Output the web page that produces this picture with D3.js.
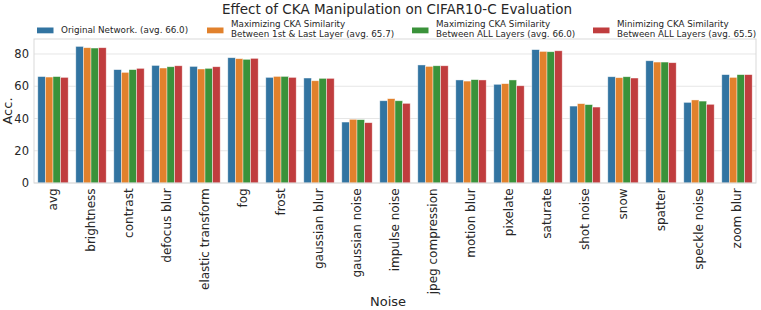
<!DOCTYPE html>
<html><head><meta charset="utf-8">
<script src="https://cdn.jsdelivr.net/npm/d3@7"></script>
<style>body{margin:0;background:#fff;} svg{display:block;font-family:"DejaVu Sans",sans-serif;}</style>
</head><body>
<svg id="c" width="761" height="310"></svg>
<script>
const categories = ["avg","brightness","contrast","defocus blur","elastic transform","fog","frost","gaussian blur","gaussian noise","impulse noise","jpeg compression","motion blur","pixelate","saturate","shot noise","snow","spatter","speckle noise","zoom blur"];
const original     = [66.0,84.7,70.3,72.9,72.3,77.7,65.5,65.1,37.8,51.0,73.2,63.9,61.2,82.7,47.7,65.9,75.8,50.0,67.2];
const maxFirstLast = [65.7,83.9,68.6,71.3,70.7,77.1,66.1,63.4,39.5,52.3,72.3,63.2,61.6,81.6,49.2,65.3,75.0,51.5,65.5];
const maxAll       = [66.0,83.7,70.3,72.1,71.1,76.7,66.1,64.9,39.3,51.0,72.7,64.1,63.9,81.4,48.6,65.9,75.0,50.8,67.2];
const minAll       = [65.5,83.9,71.1,72.7,72.1,77.3,65.5,64.9,37.4,49.4,72.7,63.9,60.3,82.0,47.1,65.1,74.6,48.8,67.2];
const seriesNames = [["Original Network. (avg. 66.0)"],["Maximizing CKA Similarity","Between 1st & Last Layer (avg. 65.7)"],["Maximizing CKA Similarity","Between ALL Layers (avg. 66.0)"],["Minimizing CKA Similarity","Between ALL Layers (avg. 65.5)"]];
const colors = ["#3274a1","#e1812c","#3a923a","#c03d3e"];
const yTicks = [0,20,40,60,80];
const series = [original, maxFirstLast, maxAll, minAll];

const svg = d3.select("#c");
const L=34, R=756, T=39, B=183;
const x = d3.scaleBand().domain(categories).range([L,R]).paddingInner(0.2).paddingOuter(0.1);
const xs = d3.scaleBand().domain(d3.range(4)).range([0,x.bandwidth()]);
const y = d3.scaleLinear().domain([0,89.3]).range([B,T]);

// grid
svg.append("g").selectAll("line").data(yTicks).join("line")
  .attr("x1",L).attr("x2",R).attr("y1",d=>y(d)).attr("y2",d=>y(d))
  .attr("stroke","#e6e6e6").attr("stroke-width",1);

// bars
const rows = categories.map((c,i)=>series.map((s,k)=>({c,k,v:s[i]})));
svg.append("g").selectAll("g").data(rows).join("g")
  .attr("transform",d=>`translate(${x(d[0].c)},0)`)
  .selectAll("rect").data(d=>d).join("rect")
  .attr("x",d=>xs(d.k)).attr("width",xs.bandwidth())
  .attr("y",d=>y(d.v)).attr("height",d=>y(0)-y(d.v))
  .attr("fill",d=>colors[d.k]).attr("stroke","#ffffff").attr("stroke-opacity",0.6).attr("stroke-width",0.7);

// frame
svg.append("rect").attr("x",L).attr("y",T).attr("width",R-L).attr("height",B-T)
  .attr("fill","none").attr("stroke","#d9d9d9").attr("stroke-width",1);

// y axis
const ya = svg.append("g").attr("transform",`translate(${L},0)`)
  .call(d3.axisLeft(y).tickValues(yTicks).tickSize(0).tickPadding(5));
ya.select(".domain").remove();
ya.selectAll("text").attr("font-size",11.5).attr("fill","#262626").attr("font-family","DejaVu Sans");

// x axis
const xa = svg.append("g").attr("transform",`translate(0,${B})`)
  .call(d3.axisBottom(x).tickSize(0).tickPadding(5));
xa.select(".domain").remove();
xa.selectAll("text").attr("font-size",12).attr("fill","#262626").attr("font-family","DejaVu Sans")
  .attr("transform","rotate(-90)").attr("text-anchor","end").attr("dx","-0.45em")
  .attr("y",0).attr("x",0).attr("dy","0.35em");

// labels
svg.append("text").attr("transform",`translate(12,${(T+B)/2}) rotate(-90)`).attr("text-anchor","middle")
  .attr("font-size",13).attr("fill","#262626").text("Acc.");
svg.append("text").attr("x",388).attr("y",306).attr("text-anchor","middle")
  .attr("font-size",13).attr("fill","#262626").text("Noise");
svg.append("text").attr("x",397).attr("y",14).attr("text-anchor","middle")
  .attr("font-size",13.5).attr("fill","#262626").text("Effect of CKA Manipulation on CIFAR10-C Evaluation");

// legend
const legX = [37,207,412,593];
const lg = svg.append("g").selectAll("g").data(seriesNames).join("g")
  .attr("transform",(d,i)=>`translate(${legX[i]},0)`);
lg.append("rect").attr("x",0).attr("y",27.5).attr("width",16.5).attr("height",5.8).attr("fill",(d,i)=>colors[i]);
lg.each(function(d){
  const g=d3.select(this);
  const base = d.length===1 ? [33.3] : [26.7,36.7];
  d.forEach((t,j)=>g.append("text").attr("x",24).attr("y",base[j]).attr("font-size",8.75).attr("fill","#262626").text(t));
});
</script>
</body></html>
